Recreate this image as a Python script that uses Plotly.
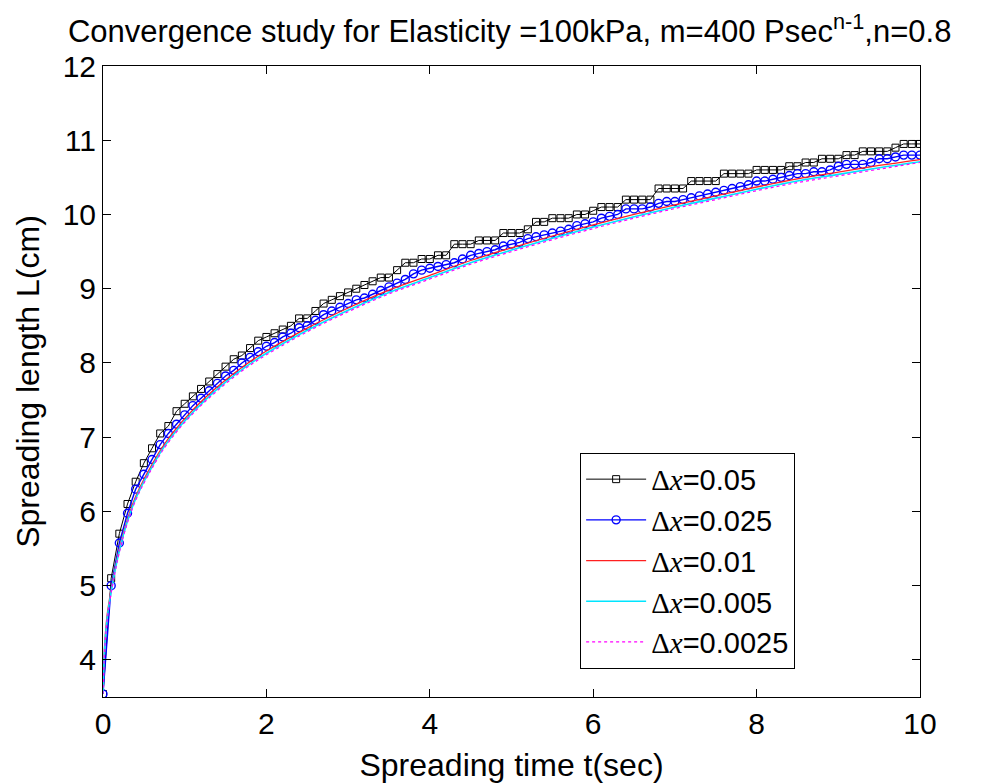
import plotly.graph_objects as go

# ---- data ----
t_coarse = [round(i * 0.1, 1) for i in range(101)]

L_dx_005 = [3.54, 5.10, 5.70, 6.10, 6.40, 6.65, 6.85, 7.05, 7.15, 7.35,
            7.45, 7.55, 7.65, 7.75, 7.85, 7.95, 8.05, 8.10, 8.20, 8.30,
            8.35, 8.40, 8.45, 8.50, 8.60, 8.60, 8.70, 8.80, 8.85, 8.90,
            8.95, 9.00, 9.05, 9.10, 9.15, 9.15, 9.25, 9.35, 9.35, 9.40,
            9.40, 9.45, 9.45, 9.60, 9.60, 9.60, 9.65, 9.65, 9.65, 9.75,
            9.75, 9.75, 9.80, 9.90, 9.90, 9.95, 9.95, 9.95, 10.00, 10.00,
            10.05, 10.10, 10.10, 10.10, 10.20, 10.20, 10.20, 10.20, 10.35, 10.35,
            10.35, 10.35, 10.45, 10.45, 10.45, 10.45, 10.55, 10.55, 10.55, 10.55,
            10.60, 10.60, 10.60, 10.60, 10.65, 10.65, 10.70, 10.70, 10.75, 10.75,
            10.75, 10.80, 10.80, 10.85, 10.85, 10.85, 10.85, 10.90, 10.95, 10.95,
            10.95]

L_dx_0025 = [3.54, 5.00, 5.575, 5.975, 6.30, 6.50, 6.70, 6.90, 7.05, 7.175,
             7.30, 7.425, 7.525, 7.625, 7.725, 7.825, 7.90, 8.00, 8.075, 8.15,
             8.225, 8.275, 8.35, 8.40, 8.475, 8.50, 8.575, 8.65, 8.70, 8.75,
             8.80, 8.85, 8.875, 8.925, 8.975, 9.025, 9.075, 9.125, 9.20, 9.25,
             9.275, 9.30, 9.325, 9.35, 9.40, 9.45, 9.475, 9.50, 9.525, 9.575,
             9.60, 9.625, 9.675, 9.70, 9.725, 9.75, 9.775, 9.80, 9.85, 9.875,
             9.90, 9.95, 9.975, 10.00, 10.075, 10.075, 10.075, 10.10, 10.15, 10.175,
             10.175, 10.20, 10.225, 10.25, 10.275, 10.30, 10.325, 10.35, 10.375, 10.40,
             10.45, 10.45, 10.475, 10.50, 10.525, 10.55, 10.55, 10.575, 10.575, 10.60,
             10.65, 10.675, 10.675, 10.675, 10.70, 10.75, 10.75, 10.775, 10.80, 10.80,
             10.80]

t_fine = [0, 0.02, 0.05, 0.1, 0.2, 0.3, 0.4, 0.5, 0.6, 0.7, 0.8, 0.9, 1.0,
          1.25, 1.5, 1.75, 2.0, 2.5, 3.0, 3.5, 4.0, 4.5, 5.0, 5.5, 6.0,
          6.5, 7.0, 7.5, 8.0, 8.5, 9.0, 9.5, 10.0]

L_dx_001 = [3.54, 4.20, 4.60, 4.95, 5.50, 5.90, 6.20, 6.43, 6.63, 6.82, 6.98, 7.12, 7.25,
            7.53, 7.77, 7.98, 8.16, 8.47, 8.74, 8.98, 9.18, 9.38, 9.55, 9.71, 9.86,
            10.00, 10.13, 10.25, 10.37, 10.48, 10.57, 10.66, 10.74]

L_dx_0005 = [3.54, 4.15, 4.55, 4.92, 5.47, 5.87, 6.17, 6.40, 6.60, 6.79, 6.95, 7.09, 7.22,
             7.50, 7.74, 7.95, 8.13, 8.44, 8.71, 8.95, 9.15, 9.35, 9.52, 9.68, 9.83,
             9.97, 10.10, 10.22, 10.34, 10.45, 10.54, 10.63, 10.71]

L_dx_00025 = [3.54, 4.12, 4.52, 4.90, 5.45, 5.85, 6.15, 6.38, 6.58, 6.77, 6.93, 7.07, 7.20,
              7.48, 7.72, 7.93, 8.11, 8.42, 8.69, 8.93, 9.13, 9.33, 9.50, 9.66, 9.81,
              9.95, 10.08, 10.20, 10.32, 10.43, 10.52, 10.61, 10.70]

x_ticks = [0, 2, 4, 6, 8, 10]
y_ticks = [4, 5, 6, 7, 8, 9, 10, 11, 12]

def dx_label(v):
    return ("<span style='font-family:Liberation Serif'>\u0394<i>x</i></span>=" + v)

FONT = "Liberation Sans, Arial, sans-serif"

fig = go.Figure()
fig.add_trace(go.Scatter(x=t_coarse, y=L_dx_005, mode="lines+markers",
                         name=dx_label("0.05"),
                         line=dict(color="black", width=1),
                         marker=dict(symbol="square-open", size=7,
                                     color="black", line=dict(width=1))))
fig.add_trace(go.Scatter(x=t_coarse, y=L_dx_0025, mode="lines+markers",
                         name=dx_label("0.025"),
                         line=dict(color="#0000ff", width=1.4),
                         marker=dict(symbol="circle-open", size=8,
                                     color="#0000ff", line=dict(width=1.4))))
fig.add_trace(go.Scatter(x=t_fine, y=L_dx_001, mode="lines",
                         name=dx_label("0.01"),
                         line=dict(color="#ff2020", width=1.3, shape="spline")))
fig.add_trace(go.Scatter(x=t_fine, y=L_dx_0005, mode="lines",
                         name=dx_label("0.005"),
                         line=dict(color="#00e5ff", width=1.6, shape="spline")))
fig.add_trace(go.Scatter(x=t_fine, y=L_dx_00025, mode="lines",
                         name=dx_label("0.0025"),
                         line=dict(color="#ff00ff", width=1.2, dash="dot", shape="spline")))

axis_common = dict(showgrid=False, zeroline=False, showline=True, linecolor="black",
                   linewidth=1, mirror="ticks", ticks="inside", ticklen=8,
                   tickcolor="black", automargin=False,
                   tickfont=dict(family=FONT, size=30, color="black"))

fig.update_xaxes(range=[0, 10], tickvals=x_ticks,
                 title=dict(text="Spreading time t(sec)",
                            font=dict(family=FONT, size=32, color="black"), standoff=14),
                 **axis_common)
fig.update_yaxes(range=[3.5, 12], tickvals=y_ticks,
                 title=dict(text="Spreading length L(cm)",
                            font=dict(family=FONT, size=32, color="black"), standoff=13),
                 **axis_common)

fig.update_layout(
    width=982, height=784,
    margin=dict(l=103, r=62, t=66, b=87, autoexpand=False),
    paper_bgcolor="white", plot_bgcolor="white",
    title=dict(text="Convergence study for Elasticity =100kPa, m=400 Psec<sup>n-1</sup>,n=0.8",
               font=dict(family=FONT, size=31, color="black"),
               x=0.519, xanchor="center", y=0.96, yanchor="middle"),
    legend=dict(x=0.584, y=0.387, xanchor="left", yanchor="top",
                bgcolor="white", bordercolor="black", borderwidth=1,
                font=dict(family=FONT, size=29, color="black"),
                tracegroupgap=0, itemwidth=60),
    showlegend=True,
)

fig.write_html("out.html")
